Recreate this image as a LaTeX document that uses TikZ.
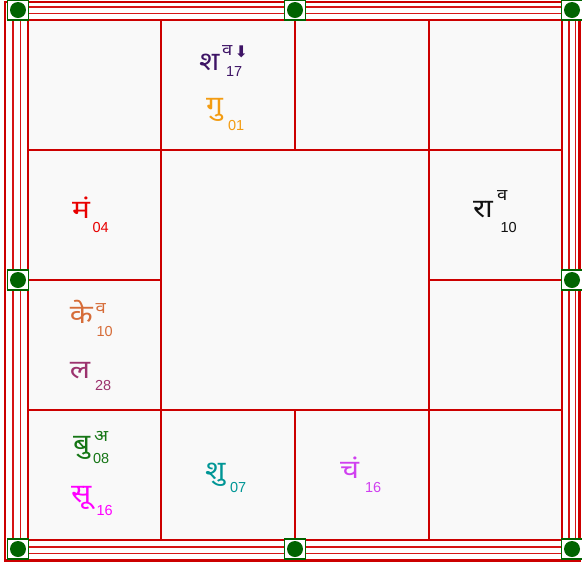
\documentclass[tikz,border=0pt]{standalone}
\usepackage{fontspec}
\newfontfamily\devf[Script=Devanagari, FakeStretch=1.15]{Noto Sans}
\newfontfamily\numf{Liberation Sans}
\newfontfamily\arrf{DejaVu Sans}
\definecolor{gridred}{RGB}{204,0,0}
\definecolor{framered}{RGB}{214,20,20}
\definecolor{kgreen}{RGB}{0,100,0}
\definecolor{cellbg}{RGB}{249,249,249}
\definecolor{cSha}{RGB}{62,20,102}
\definecolor{cGu}{RGB}{243,156,18}
\definecolor{cMa}{RGB}{232,0,0}
\definecolor{cRa}{RGB}{17,17,17}
\definecolor{cKe}{RGB}{214,108,56}
\definecolor{cLa}{RGB}{156,50,110}
\definecolor{cBu}{RGB}{22,118,22}
\definecolor{cSu}{RGB}{255,0,255}
\definecolor{cShu}{RGB}{0,150,150}
\definecolor{cCh}{RGB}{208,64,240}
\begin{document}
\begin{tikzpicture}[x=1pt,y=-1pt,
  gridline/.style={draw=gridred, line width=1.4pt},
  frameline/.style={draw=framered, line width=1.3pt},
  framethick/.style={draw=gridred, line width=2.6pt},
  knob/.style={draw=kgreen, line width=1.6pt, fill=white, minimum width=21pt,
    minimum height=20pt, inner sep=0pt,
    path picture={\fill[kgreen] (path picture bounding box.center) circle (8pt);}},
  pl/.style={anchor=base west, inner sep=0pt, outer sep=0pt},
  mainl/.style={pl, font=\devf\fontsize{26}{26}\selectfont},
  supl/.style={pl, text depth=0pt, font=\devf\fontsize{16}{16}\selectfont},
  subl/.style={pl, font=\numf\fontsize{14.5}{14.5}\selectfont}]
\useasboundingbox (0,0) rectangle (582,566);
\fill[white] (0,0) rectangle (582,566);
\fill[cellbg] (28,20) rectangle (562,540);
% frame
\draw[framethick] (5,2) rectangle (579.5,560.5);
\draw[frameline] (13,7) rectangle (575.5,553.5);
\draw[frameline] (20.5,13.5) rectangle (569,547);
% grid
\draw[gridline] (28,20) rectangle (562,540);
\draw[gridline] (161,20) -- (161,540);
\draw[gridline] (429,20) -- (429,540);
\draw[gridline] (295,20) -- (295,150);
\draw[gridline] (295,410) -- (295,540);
\draw[gridline] (28,150) -- (562,150);
\draw[gridline] (28,410) -- (562,410);
\draw[gridline] (28,280) -- (161,280);
\draw[gridline] (429,280) -- (562,280);
% knobs
\node[knob] (k1) at (18,10) {};
\node[knob] (k2) at (295,10) {};
\node[knob] (k3) at (572,10) {};
\node[knob] (k4) at (18,280) {};
\node[knob] (k5) at (572,280) {};
\node[knob] (k6) at (18,549) {};
\node[knob] (k7) at (295,549) {};
\node[knob] (k8) at (572,549) {};
% planets
\node[mainl, text=cSha] (sha) at (199,70) {श};
\node[supl, text=cSha] (shasup) at (222,55) {व};
\node[pl, text=cSha, font=\arrf\fontsize{16}{16}\selectfont] (shaarr) at (234.5,57.5) {⬇};
\node[subl, text=cSha] (shasub) at (226,76) {17};
\node[mainl, text=cGu] (gu) at (206,114) {गु};
\node[subl, text=cGu] (gusub) at (228,130) {01};
\node[mainl, text=cMa] (ma) at (72,218) {मं};
\node[subl, text=cMa] (masub) at (92.5,232) {04};
\node[mainl, text=cRa] (ra) at (473,217) {रा};
\node[supl, text=cRa] (rasup) at (497,200) {व};
\node[subl, text=cRa] (rasub) at (500.5,232) {10};
\node[mainl, text=cKe] (ke) at (70,323) {के};
\node[supl, text=cKe] (kesup) at (95.5,313.5) {व};
\node[subl, text=cKe] (kesub) at (96.5,336) {10};
\node[mainl, text=cLa] (la) at (70,378) {ल};
\node[subl, text=cLa] (lasub) at (95,390) {28};
\node[mainl, text=cBu] (bu) at (73,452) {बु};
\node[supl, text=cBu] (busup) at (94,441) {अ};
\node[subl, text=cBu] (busub) at (93,463.5) {08};
\node[mainl, text=cSu] (su) at (71,502) {सू};
\node[subl, text=cSu] (susub) at (96.5,515) {16};
\node[mainl, text=cShu] (shu) at (205,479) {शु};
\node[subl, text=cShu] (shusub) at (230,492) {07};
\node[mainl, text=cCh] (ch) at (340,478) {चं};
\node[subl, text=cCh] (chsub) at (365,492) {16};
\end{tikzpicture}
\end{document}
